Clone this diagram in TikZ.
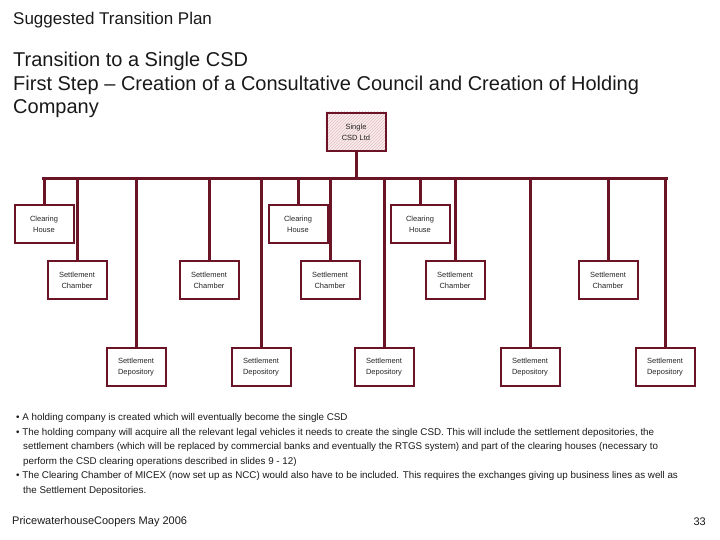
\documentclass[tikz,border=0pt]{standalone}
\usepackage{fontspec}
\setmainfont{Liberation Sans}
\usetikzlibrary{patterns}
\definecolor{mar}{HTML}{6B1426}
\begin{document}
\begin{tikzpicture}[x=1pt,y=-1pt,
  box/.style={draw=mar,line width=2pt,fill=white,minimum width=59pt,minimum height=38pt,inner sep=0pt,align=center,font=\fontsize{7.5}{11}\selectfont,text=black!85},
  conn/.style={draw=mar,line width=3pt},
  txt/.style={anchor=west,inner sep=0pt,text=black!90}]
\useasboundingbox (0,0) rectangle (720,540);
\node[txt,font=\fontsize{17}{20}\selectfont] (t1) at (13,20) {Suggested Transition Plan};
\node[txt,font=\fontsize{20}{24}\selectfont] (t2) at (13,61) {Transition to a Single CSD};
\node[txt,font=\fontsize{20}{24}\selectfont] (t3) at (13,85) {First Step -- Creation of a Consultative Council and Creation of Holding};
\node[txt,font=\fontsize{20}{24}\selectfont] (t4) at (13,109) {Company};
% bus
\coordinate (bl) at (43.5,179); \coordinate (br) at (666.5,179);
\draw[conn,line cap=rect] (bl) -- (br);
\draw[conn] (356,150) -- (356,179);
\node[box,fill=red!8] (top) at (356,132) {};
\fill[pattern=north east lines,pattern color=mar!25] (top.south west) rectangle (top.north east);
\node[box,fill=none] at (top) {Single\\CSD Ltd};
% clearing houses
\foreach \n/\x in {c1/44,c2/298,c3/420}{
  \draw[conn] (\x,179) -- (\x,210);
  \node[box] (\n) at (\x,224) {Clearing\\House};
}
\foreach \n/\x in {s1/77,s2/209,s3/330,s4/455,s5/608}{
  \draw[conn] (\x,179) -- (\x,265);
  \node[box] (\n) at (\x,280) {Settlement\\Chamber};
}
\foreach \n/\x in {d1/136,d2/261,d3/384,d4/530,d5/665}{
  \draw[conn] (\x,179) -- (\x,355);
  \node[box] (\n) at (\x,367) {Settlement\\Depository};
}
\begin{scope}[every node/.style={txt,font=\fontsize{9.8}{11}\selectfont}]
\node at (16,418) {• A holding company is created which will eventually become the single CSD};
\node at (16,433) {• The holding company will acquire all the relevant legal vehicles it needs to create the single CSD. This will include the settlement depositories, the};
\node at (23,447) {settlement chambers (which will be replaced by commercial banks and eventually the RTGS system) and part of the clearing houses (necessary to};
\node at (23,462) {perform the CSD clearing operations described in slides 9 - 12)};
\node at (16,476) {• The Clearing Chamber of MICEX (now set up as NCC) would also have to be included. This requires the exchanges giving up business lines as well as};
\node at (23,491) {the Settlement Depositories.};
\end{scope}
\node[txt,font=\fontsize{11}{13}\selectfont] (f1) at (12,522) {PricewaterhouseCoopers May 2006};
\node[txt,anchor=east,font=\fontsize{11}{13}\selectfont] (f2) at (706,522) {33};
\end{tikzpicture}
\end{document}
